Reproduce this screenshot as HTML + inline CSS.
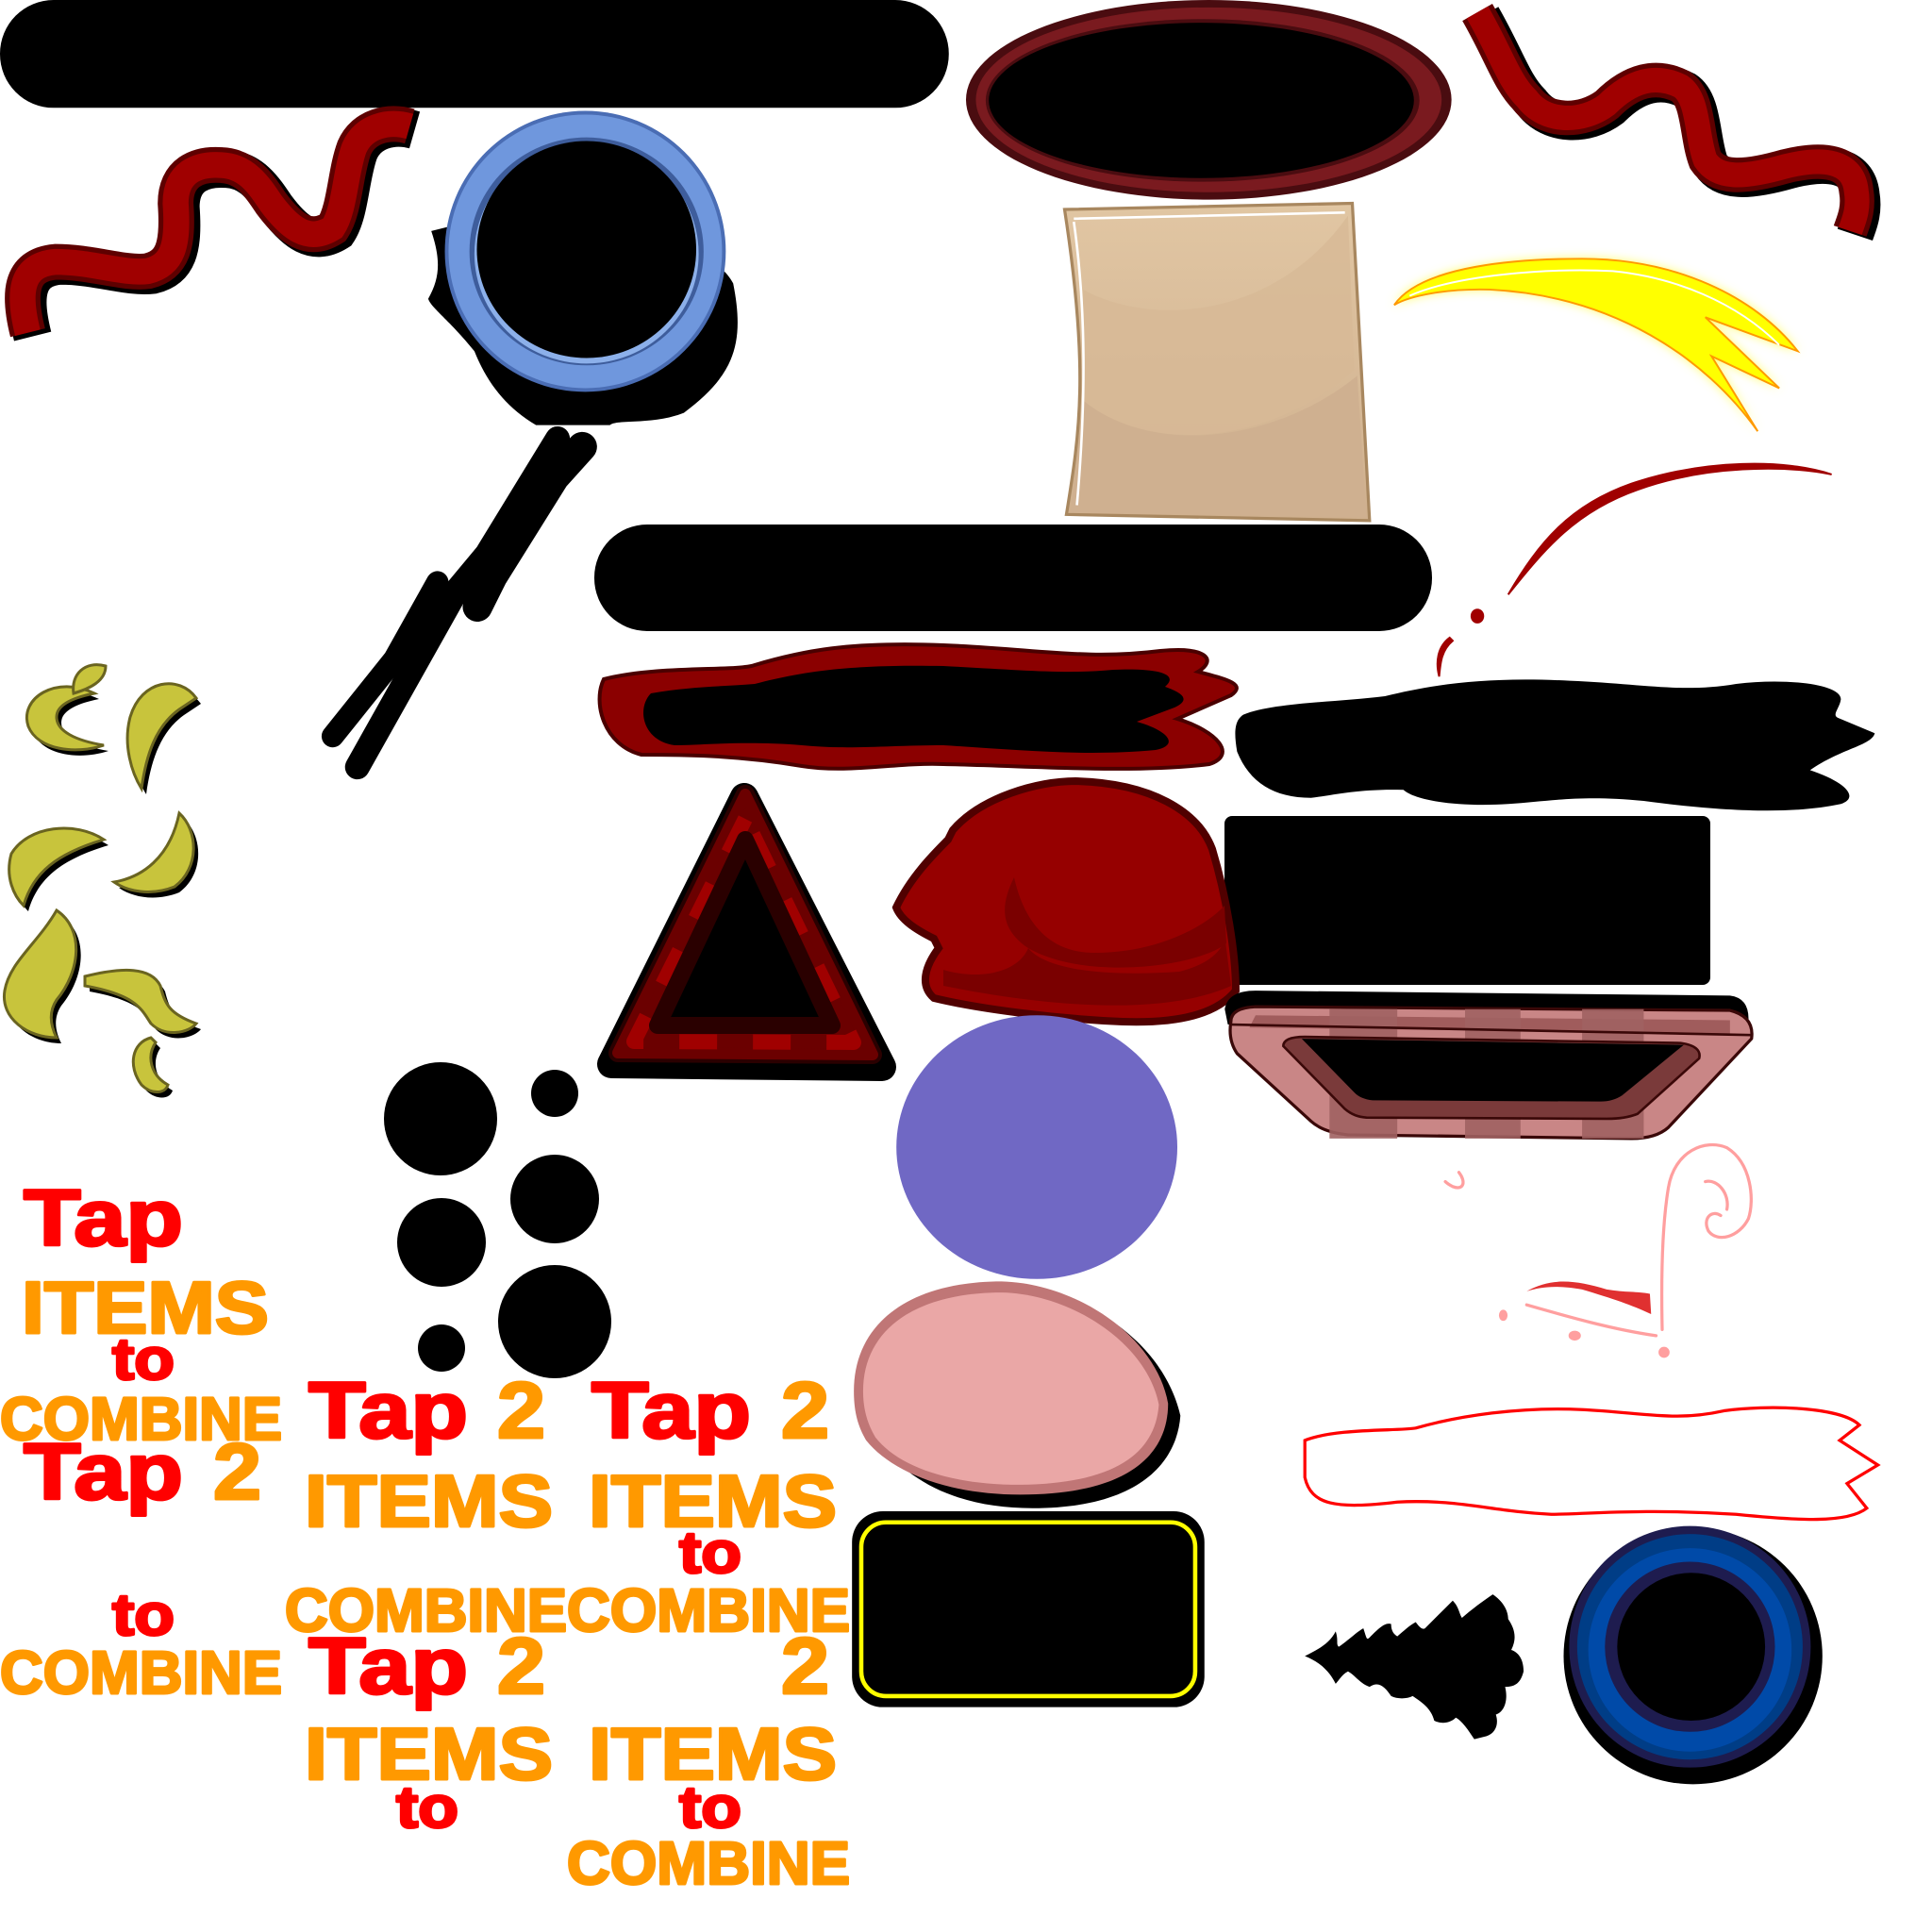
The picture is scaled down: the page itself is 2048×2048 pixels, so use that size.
<!DOCTYPE html>
<html><head><meta charset="utf-8"><style>
html,body{margin:0;padding:0;background:#fff;}
svg{display:block;}
text{font-family:"Liberation Sans",Arial,sans-serif;font-weight:bold;stroke-width:3;stroke-linejoin:round;}
</style></head><body>
<svg width="2048" height="2048" viewBox="0 0 2048 2048" xmlns="http://www.w3.org/2000/svg">
<defs>
<filter id="glow" x="-20%" y="-20%" width="140%" height="140%"><feGaussianBlur stdDeviation="8"/></filter>
<linearGradient id="tan" x1="0" y1="0" x2="0" y2="1"><stop offset="0" stop-color="#e1c6a3"/><stop offset="1" stop-color="#cfb08e"/></linearGradient>
</defs>

<g transform="scale(0.6531)">
  <rect x="0" y="0" width="1540" height="175" rx="87" fill="#000"/>
  <path d="M45,540 C30,480 30,430 90,425 C150,425 200,445 240,440 C280,430 290,400 285,330 C285,280 320,265 360,268 C400,270 420,300 440,330 C470,370 500,395 540,370 C560,340 560,280 575,240 C590,205 630,195 665,205" fill="none" stroke="#000" stroke-width="62" transform="translate(8,6)"/>
  <path d="M45,540 C30,480 30,430 90,425 C150,425 200,445 240,440 C280,430 290,400 285,330 C285,280 320,265 360,268 C400,270 420,300 440,330 C470,370 500,395 540,370 C560,340 560,280 575,240 C590,205 630,195 665,205" fill="none" stroke="#5e0000" stroke-width="58"/>
  <path d="M45,540 C30,480 30,430 90,425 C150,425 200,445 240,440 C280,430 290,400 285,330 C285,280 320,265 360,268 C400,270 420,300 440,330 C470,370 500,395 540,370 C560,340 560,280 575,240 C590,205 630,195 665,205" fill="none" stroke="#a00000" stroke-width="42"/>
  <path d="M700,375 L760,360 C900,330 1150,380 1190,460 C1210,560 1190,610 1110,670 C1060,690 1000,680 990,690 L870,690 C820,660 790,620 770,570 C730,520 700,500 695,485 C715,450 715,420 700,375 Z" fill="#000"/>
  <ellipse cx="950" cy="408" rx="228" ry="228" fill="#4a6db4"/>
  <ellipse cx="950" cy="408" rx="222" ry="222" fill="#6f97dd"/>
  <ellipse cx="952" cy="408" rx="190" ry="185" fill="#3e5d9c"/>
  <ellipse cx="952" cy="412" rx="182" ry="178" fill="#8cb0ea"/>
  <ellipse cx="952" cy="405" rx="178" ry="176" fill="#000"/>
  <g stroke="#000" stroke-linecap="round" fill="none">
    <path d="M905,712 L790,900 L740,960 L580,1245" stroke-width="40"/>
    <path d="M945,725 L900,775 L800,935 L775,985" stroke-width="48"/>
    <path d="M710,945 L640,1070 L540,1195" stroke-width="36"/>
  </g>
</g>

<g transform="translate(1024,0) scale(0.6531)">
  <ellipse cx="394" cy="162" rx="394" ry="162" fill="#4a0c10"/>
  <ellipse cx="394" cy="162" rx="378" ry="150" fill="#7a1a1f"/>
  <ellipse cx="384" cy="163" rx="352" ry="132" fill="#4a0c10"/>
  <ellipse cx="382" cy="163" rx="345" ry="126" fill="#000"/>
  <path d="M830,20 C870,90 880,130 910,160 C940,200 1000,200 1040,170 C1080,130 1120,120 1160,140 C1190,160 1185,220 1200,260 C1220,290 1260,290 1330,270 C1390,255 1440,260 1445,310 C1450,340 1440,360 1435,375" fill="none" stroke="#000" stroke-width="60" transform="translate(8,6)"/>
  <path d="M830,20 C870,90 880,130 910,160 C940,200 1000,200 1040,170 C1080,130 1120,120 1160,140 C1190,160 1185,220 1200,260 C1220,290 1260,290 1330,270 C1390,255 1440,260 1445,310 C1450,340 1440,360 1435,375" fill="none" stroke="#5e0000" stroke-width="56"/>
  <path d="M830,20 C870,90 880,130 910,160 C940,200 1000,200 1040,170 C1080,130 1120,120 1160,140 C1190,160 1185,220 1200,260 C1220,290 1260,290 1330,270 C1390,255 1440,260 1445,310 C1450,340 1440,360 1435,375" fill="none" stroke="#a00000" stroke-width="40"/>
  <path d="M160,340 L627,330 L655,845 L163,835 C185,700 200,600 160,340 Z" fill="url(#tan)" stroke="#a8875f" stroke-width="5"/>
  <path d="M190,470 C300,530 500,520 620,350 L630,600 C500,720 300,740 190,650 Z" fill="#d7b996" opacity="0.8"/>
  <path d="M190,650 C300,740 500,720 635,610 L650,840 L170,832 Z" fill="#cfb090"/>
  <path d="M175,355 L615,345 M175,360 C195,500 195,650 180,820" stroke="#fff" stroke-width="4" fill="none"/>
  <path d="M695,495 C740,430 900,420 1000,420 C1150,420 1280,480 1350,570 L1200,515 L1320,630 L1210,578 L1285,700 C1200,580 1050,480 850,470 C780,468 720,480 695,495 Z" fill="#ffff60" filter="url(#glow)"/>
  <path d="M695,495 C740,430 900,420 1000,420 C1150,420 1280,480 1350,570 L1200,515 L1320,630 L1210,578 L1285,700 C1200,580 1050,480 850,470 C780,468 720,480 695,495 Z" fill="#ffff00" stroke="#ff9900" stroke-width="3"/>
  <path d="M720,480 C800,445 950,435 1050,440 C1150,450 1250,490 1320,560" fill="none" stroke="#fff" stroke-width="3"/>
  <path d="M880,965 C930,880 980,820 1080,785 C1200,745 1330,745 1405,770 C1330,755 1200,755 1090,795 C990,830 940,890 880,965 Z" fill="#a00000" stroke="#a00000" stroke-width="3"/>
  <ellipse cx="830" cy="1000" rx="11" ry="12" fill="#a00000"/>
  <path d="M785,1035 C765,1050 762,1075 768,1098 C770,1075 772,1055 790,1040 Z" fill="#a00000" stroke="#a00000" stroke-width="3"/>
  <path d="M450,1160 C500,1140 600,1140 680,1130 C760,1110 850,1098 980,1105 C1100,1110 1160,1125 1250,1110 C1330,1100 1420,1110 1420,1135 C1418,1150 1405,1160 1415,1165 L1475,1190 C1470,1210 1420,1215 1370,1250 C1430,1270 1450,1295 1420,1305 C1350,1320 1250,1320 1100,1300 C1000,1290 950,1300 880,1305 C800,1310 730,1300 710,1282 C640,1280 600,1290 560,1295 C500,1295 460,1270 440,1220 C435,1190 435,1170 450,1160 Z" fill="#000"/>
</g>

<rect x="630" y="556" width="888" height="113" rx="56" fill="#000"/>
<rect x="1298" y="865" width="515" height="179" rx="8" fill="#000"/>
<path d="M640,720 C700,705 780,712 800,705 C850,690 900,680 1000,684 C1100,688 1150,700 1230,690 C1280,685 1290,700 1270,712 C1300,720 1322,725 1305,737 L1248,762 C1290,775 1312,800 1282,810 C1200,820 1100,812 1000,810 C950,808 900,820 850,812 C780,800 720,800 680,800 C640,790 628,745 640,720 Z" fill="#8b0000" stroke="#4a0000" stroke-width="4"/>
<path d="M690,735 C730,728 760,728 800,725 C850,712 900,704 1000,706 C1080,710 1130,715 1180,710 C1230,708 1250,715 1235,728 C1255,735 1262,742 1245,750 L1205,765 C1240,775 1250,790 1225,795 C1150,802 1080,795 1000,790 C940,790 900,795 850,790 C790,785 740,790 715,790 C680,785 675,750 690,735 Z" fill="#000"/>

<polygon points="789,845 648,1128 935,1131" fill="#000" stroke="#000" stroke-width="30" stroke-linejoin="round"/>
<polygon points="790,842 655,1116 925,1118" fill="#6b0000" stroke="#2a0000" stroke-width="20" stroke-linejoin="round"/>
<polygon points="790,842 655,1116 925,1118" fill="#6b0000" stroke="#6b0000" stroke-width="12" stroke-linejoin="round"/>
<polygon points="790,868 672,1104 905,1105" fill="none" stroke="#a00000" stroke-width="16" stroke-dasharray="40 38" stroke-linejoin="round"/>
<polygon points="790,890 697,1087 882,1087" fill="#000" stroke="#2a0000" stroke-width="18" stroke-linejoin="round"/>

<path d="M1010,880 C1040,845 1100,828 1140,828 C1220,830 1270,860 1285,900 C1300,950 1310,1010 1310,1050 C1290,1075 1250,1085 1190,1083 C1120,1080 1040,1070 990,1058 C975,1045 980,1025 995,1005 L990,995 C970,985 955,975 950,962 C965,930 990,905 1005,890 Z" fill="#960000" stroke="#500000" stroke-width="8"/>
<path d="M1000,1028 C1040,1040 1080,1030 1090,1005 C1110,1030 1180,1035 1250,1030 C1290,1020 1300,1000 1298,990 L1305,1045 C1250,1070 1150,1075 1000,1045 Z" fill="#7a0000"/>
<path d="M1075,930 C1085,975 1110,1010 1160,1010 C1230,1010 1280,980 1298,960 L1300,1000 C1270,1025 1150,1040 1090,1005 C1060,985 1060,960 1075,930 Z" fill="#7a0000"/>

<g fill="#000" transform="translate(5,6)">
<path d="M100,735 C60,715 20,740 30,770 C40,795 80,800 110,790 C80,785 60,775 60,760 C60,748 75,740 100,735 Z"/>
<path d="M208,740 C190,715 150,720 138,760 C130,790 140,820 150,836 C155,800 165,770 190,752 Z"/>
<path d="M110,890 C80,870 30,875 12,905 C5,930 15,950 25,960 C35,925 60,905 110,890 Z"/>
<path d="M190,862 C210,880 212,920 185,940 C160,950 135,945 121,935 C150,930 180,910 190,862 Z"/>
<path d="M60,965 C90,985 85,1030 60,1060 C50,1075 55,1090 60,1100 C30,1100 0,1080 5,1050 C10,1020 40,1000 60,965 Z"/>
<path d="M90,1035 C130,1025 160,1025 170,1045 C175,1065 180,1075 208,1085 C200,1095 175,1100 160,1085 C150,1070 145,1055 90,1045 Z"/>
<path d="M160,1100 C140,1105 135,1130 150,1150 C160,1160 175,1160 178,1150 C160,1140 155,1120 165,1105 Z"/>
</g>
<g fill="#c8c43c" stroke="#6a6420" stroke-width="3">
<path d="M100,735 C60,715 20,740 30,770 C40,795 80,800 110,790 C80,785 60,775 60,760 C60,748 75,740 100,735 Z"/>
<path d="M78,735 C75,715 90,700 112,706 C112,722 95,730 78,735 Z"/>
<path d="M208,740 C190,715 150,720 138,760 C130,790 140,820 150,836 C155,800 165,770 190,752 Z"/>
<path d="M110,890 C80,870 30,875 12,905 C5,930 15,950 25,960 C35,925 60,905 110,890 Z"/>
<path d="M190,862 C210,880 212,920 185,940 C160,950 135,945 121,935 C150,930 180,910 190,862 Z"/>
<path d="M60,965 C90,985 85,1030 60,1060 C50,1075 55,1090 60,1100 C30,1100 0,1080 5,1050 C10,1020 40,1000 60,965 Z"/>
<path d="M90,1035 C130,1025 160,1025 170,1045 C175,1065 180,1075 208,1085 C200,1095 175,1100 160,1085 C150,1070 145,1055 90,1045 Z"/>
<path d="M160,1100 C140,1105 135,1130 150,1150 C160,1160 175,1160 178,1150 C160,1140 155,1120 165,1105 Z"/>
</g>

<g fill="#000">
<circle cx="467" cy="1186" r="60"/>
<circle cx="588" cy="1159" r="25"/>
<circle cx="468" cy="1317" r="47"/>
<circle cx="588" cy="1271" r="47"/>
<circle cx="468" cy="1429" r="25"/>
<circle cx="588" cy="1401" r="60"/>
</g>

<g transform="translate(1024,1024) scale(0.6531)">
  <ellipse cx="115" cy="294" rx="228" ry="214" fill="#7068c4"/>
  <g transform="translate(28,0)">
  <path d="M-200,720 C-210,620 -120,520 50,520 C150,525 290,600 320,730 C315,800 260,880 80,880 C-50,880 -150,830 -200,720 Z" fill="#000"/>
  <path d="M-210,690 C-210,580 -120,512 30,512 C150,515 280,600 300,710 C300,790 240,858 60,858 C-60,858 -150,820 -190,770 C-205,745 -210,720 -210,690 Z" fill="#c07676"/>
  <path d="M-195,690 C-195,590 -110,530 30,530 C140,532 265,610 285,712 C280,780 230,840 60,842 C-60,842 -140,810 -175,765 C-190,740 -195,715 -195,690 Z" fill="#eaa7a6"/>
  </g>
  <rect x="-185" y="885" width="572" height="318" rx="50" fill="#000"/>
  <rect x="-170" y="903" width="542" height="282" rx="40" fill="none" stroke="#ffff00" stroke-width="7"/>
  <path d="M420,70 Q425,40 470,40 L1240,48 Q1272,52 1270,90 L1270,100 L425,95 Z" fill="#000"/>
  <path d="M430,90 Q430,68 470,66 L1240,72 Q1280,82 1275,118 L1140,262 Q1120,280 1080,280 L620,274 Q580,270 560,252 L440,142 Q425,120 430,90 Z" fill="#c98686" stroke="#3a0808" stroke-width="5"/>
  <path d="M470,80 L1240,88 L1240,110 L460,100 Z" fill="#8e4a4a" opacity="0.7"/>
  <g fill="#a06262" opacity="0.9">
    <rect x="590" y="70" width="110" height="210"/><rect x="810" y="70" width="90" height="210"/><rect x="1000" y="70" width="100" height="210"/>
  </g>
  <path d="M430,95 L1275,112" stroke="#3a0808" stroke-width="4"/>
  <path d="M515,130 Q515,115 550,115 L1160,125 Q1195,130 1190,150 L1090,240 Q1070,248 1040,248 L650,246 Q630,245 615,232 Z" fill="#7a3a3a" stroke="#3a0808" stroke-width="4"/>
  <path d="M545,118 L1165,128 L1065,210 Q1050,220 1030,220 L660,218 Q640,216 630,205 Z" fill="#000"/>
  <g fill="none" stroke="#ff9f9f" stroke-width="5" stroke-linecap="round">
    <path d="M1130,590 C1128,500 1130,420 1140,360 C1150,300 1200,280 1235,295 C1275,320 1280,380 1270,410 C1255,440 1220,450 1205,430 C1195,410 1210,395 1225,405"/>
    <path d="M1200,350 C1220,345 1240,370 1235,395"/>
    <path d="M910,550 C980,570 1050,590 1120,600"/>
    <path d="M800,335 C812,350 808,365 790,358 C782,354 778,350 778,350"/>
  </g>
  <ellipse cx="872" cy="567" rx="7" ry="9" fill="#ff9f9f"/>
  <ellipse cx="988" cy="600" rx="10" ry="8" fill="#ff9f9f"/>
  <ellipse cx="1133" cy="627" rx="9" ry="9" fill="#ff9f9f"/>
  <path d="M910,528 C950,505 990,510 1040,525 C1070,530 1090,528 1110,532 L1112,565 C1080,550 1050,540 1000,525 C960,518 935,520 910,528 Z" fill="#e03030"/>
  <path d="M550,770 C600,750 700,755 730,750 C800,730 900,715 1000,720 C1100,725 1150,740 1230,722 C1300,712 1420,715 1450,745 L1418,770 L1480,810 L1430,840 L1462,880 C1430,905 1350,900 1250,890 C1100,880 1000,890 950,890 C850,885 800,865 700,870 C600,882 560,875 550,830 Z" fill="none" stroke="#ff0000" stroke-width="5"/>
  <path d="M550,1120 C570,1110 590,1100 600,1080 C605,1095 600,1100 605,1105 C620,1095 635,1080 645,1075 C650,1090 650,1095 655,1090 C670,1075 680,1065 690,1068 C690,1080 695,1085 700,1088 C710,1080 720,1070 730,1065 C735,1072 740,1078 745,1075 C760,1060 775,1045 790,1030 C800,1040 800,1050 805,1058 C820,1045 840,1030 855,1020 C870,1030 880,1045 880,1060 C890,1075 895,1090 885,1110 C900,1115 905,1130 905,1145 C900,1165 890,1170 875,1170 C880,1190 875,1210 860,1215 C865,1230 860,1245 845,1250 L825,1255 C815,1240 805,1225 795,1220 C785,1230 770,1230 760,1225 C755,1205 740,1195 725,1185 C715,1190 700,1190 690,1185 C680,1170 670,1160 655,1170 C640,1165 630,1150 620,1145 C610,1150 605,1160 600,1165 C590,1145 575,1130 550,1120 Z" fill="#000"/>
  <ellipse cx="1180" cy="1120" rx="210" ry="208" fill="#000"/>
  <ellipse cx="1175" cy="1105" rx="196" ry="196" fill="#1e1c4f"/>
  <ellipse cx="1175" cy="1105" rx="183" ry="183" fill="#003d86"/>
  <ellipse cx="1175" cy="1110" rx="165" ry="165" fill="#004aa8"/>
  <ellipse cx="1175" cy="1105" rx="138" ry="138" fill="#1e1c4f"/>
  <ellipse cx="1177" cy="1105" rx="120" ry="120" fill="#000"/>
</g>

<g>
<text x="25" y="1320" font-size="84" fill="#ff0000" stroke="#ff0000" textLength="169" lengthAdjust="spacingAndGlyphs">Tap</text>
<text x="23" y="1413" font-size="78" fill="#ff9900" stroke="#ff9900" textLength="262" lengthAdjust="spacingAndGlyphs">ITEMS</text>
<text x="119" y="1462" font-size="62" fill="#ff0000" stroke="#ff0000" textLength="66" lengthAdjust="spacingAndGlyphs">to</text>
<text x="0" y="1526" font-size="64" fill="#ff9900" stroke="#ff9900" textLength="299" lengthAdjust="spacingAndGlyphs">COMBINE</text>
<text x="25" y="1589" font-size="84" fill="#ff0000" stroke="#ff0000" textLength="169" lengthAdjust="spacingAndGlyphs">Tap</text>
<text x="226" y="1589" font-size="84" fill="#ff9900" stroke="#ff9900" textLength="51" lengthAdjust="spacingAndGlyphs">2</text>
<text x="119" y="1733" font-size="62" fill="#ff0000" stroke="#ff0000" textLength="66" lengthAdjust="spacingAndGlyphs">to</text>
<text x="0" y="1795" font-size="64" fill="#ff9900" stroke="#ff9900" textLength="299" lengthAdjust="spacingAndGlyphs">COMBINE</text>

<text x="327" y="1524" font-size="84" fill="#ff0000" stroke="#ff0000" textLength="169" lengthAdjust="spacingAndGlyphs">Tap</text>
<text x="527" y="1524" font-size="84" fill="#ff9900" stroke="#ff9900" textLength="51" lengthAdjust="spacingAndGlyphs">2</text>
<text x="323" y="1618" font-size="78" fill="#ff9900" stroke="#ff9900" textLength="263" lengthAdjust="spacingAndGlyphs">ITEMS</text>
<text x="302" y="1729" font-size="64" fill="#ff9900" stroke="#ff9900" textLength="299" lengthAdjust="spacingAndGlyphs">COMBINE</text>
<text x="327" y="1795" font-size="84" fill="#ff0000" stroke="#ff0000" textLength="169" lengthAdjust="spacingAndGlyphs">Tap</text>
<text x="527" y="1795" font-size="84" fill="#ff9900" stroke="#ff9900" textLength="51" lengthAdjust="spacingAndGlyphs">2</text>
<text x="323" y="1886" font-size="78" fill="#ff9900" stroke="#ff9900" textLength="263" lengthAdjust="spacingAndGlyphs">ITEMS</text>
<text x="420" y="1937" font-size="62" fill="#ff0000" stroke="#ff0000" textLength="66" lengthAdjust="spacingAndGlyphs">to</text>

<text x="627" y="1524" font-size="84" fill="#ff0000" stroke="#ff0000" textLength="169" lengthAdjust="spacingAndGlyphs">Tap</text>
<text x="828" y="1524" font-size="84" fill="#ff9900" stroke="#ff9900" textLength="51" lengthAdjust="spacingAndGlyphs">2</text>
<text x="624" y="1618" font-size="78" fill="#ff9900" stroke="#ff9900" textLength="263" lengthAdjust="spacingAndGlyphs">ITEMS</text>
<text x="720" y="1667" font-size="62" fill="#ff0000" stroke="#ff0000" textLength="66" lengthAdjust="spacingAndGlyphs">to</text>
<text x="601" y="1729" font-size="64" fill="#ff9900" stroke="#ff9900" textLength="300" lengthAdjust="spacingAndGlyphs">COMBINE</text>
<text x="828" y="1795" font-size="84" fill="#ff9900" stroke="#ff9900" textLength="51" lengthAdjust="spacingAndGlyphs">2</text>
<text x="624" y="1886" font-size="78" fill="#ff9900" stroke="#ff9900" textLength="263" lengthAdjust="spacingAndGlyphs">ITEMS</text>
<text x="720" y="1937" font-size="62" fill="#ff0000" stroke="#ff0000" textLength="66" lengthAdjust="spacingAndGlyphs">to</text>
<text x="601" y="1997" font-size="64" fill="#ff9900" stroke="#ff9900" textLength="300" lengthAdjust="spacingAndGlyphs">COMBINE</text>
</g>
</svg>
</body></html>
